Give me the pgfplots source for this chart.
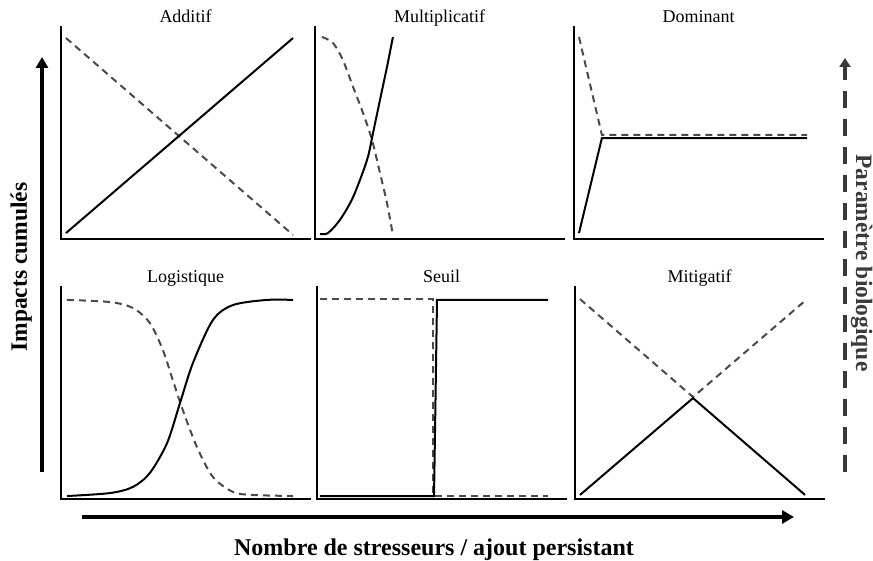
\documentclass[border=0pt]{standalone}
\usepackage{fontspec}
\setmainfont{Liberation Serif}
\usepackage{pgfplots}
\pgfplotsset{compat=1.18}
\usetikzlibrary{arrows.meta}
\definecolor{dgray}{HTML}{4A4A4A}
\definecolor{lgray}{HTML}{3A3A3A}
\pgfplotsset{
  panel/.style={
    width=249pt, height=212pt, scale only axis,
    xmin=0, xmax=100, ymin=0, ymax=100,
    axis x line=bottom, axis y line=left,
    axis line style={-, line width=2.2pt, line cap=rect},
    xtick=\empty, ytick=\empty,
    anchor=south west, clip=false,
    title style={anchor=base, at={(0.5,1)}, yshift=-2pt, font=\fontsize{18}{20}\selectfont},
  },
  solidl/.style={black, line width=2pt, no marks},
  dashl/.style={dgray, line width=2pt, no marks, dash pattern=on 7pt off 5pt},
}
\begin{document}
\begin{tikzpicture}
\useasboundingbox (0pt,0pt) rectangle (873pt,-561pt);

% Additif
\begin{axis}[panel, at={(61pt,-239pt)}, title={Additif}]
\addplot[dashl] coordinates {(2,94.8) (93.2,1.9)};
\addplot[solidl] coordinates {(2,2.8) (93.2,94.8)};
\end{axis}

% Multiplicatif
\begin{axis}[panel, at={(315pt,-239pt)}, title={Multiplicatif}]
\addplot[dashl, smooth] coordinates {(2.8,95.3) (7.2,92.5) (11.2,84.4) (15.3,71.7) (19.3,59.4) (22.9,46.7) (26.1,31.1) (28.9,17.0) (31.3,1.9)};
\addplot[solidl, smooth] coordinates {(2.0,2.4) (5.2,2.8) (10.0,9.0) (15.3,19.8) (20.9,37.3) (23.3,50.0) (26.1,65.6) (28.9,81.1) (31.3,95.3)};
\end{axis}

% Dominant
\begin{axis}[panel, at={(574pt,-239pt)}, title={Dominant}]
\addplot[dashl] coordinates {(2.0,95.3) (11.2,49.1) (93.6,49.1)};
\addplot[solidl] coordinates {(2.0,2.8) (11.2,47.6) (93.6,47.6)};
\end{axis}

% Logistique
\begin{axis}[panel, at={(61pt,-499pt)}, title={Logistique}]
\addplot[dashl, smooth] coordinates {(2.4,93.9) (19.7,92.9) (28.9,90.1) (35.7,83.0) (40.9,70.3) (44.9,56.1) (48.9,42.0) (54.6,24.5) (61.0,10.4) (69.1,3.3) (77.1,1.9) (93.2,1.4)};
\addplot[solidl, smooth] coordinates {(2.4,1.4) (19.7,2.8) (28.9,5.7) (35.7,12.3) (42.6,26.4) (47.8,45.3) (53.0,64.2) (61.0,84.4) (69.1,91.5) (82.7,93.9) (93.2,93.9)};
\end{axis}

% Seuil
\begin{axis}[panel, at={(317pt,-499pt)}, title={Seuil}]
\addplot[dashl] coordinates {(1.2,94.3) (46.6,94.3) (46.6,1.4) (92.8,1.4)};
\addplot[solidl] coordinates {(1.2,1.4) (47.0,1.4) (48.2,93.9) (92.8,93.9)};
\end{axis}

% Mitigatif
\begin{axis}[panel, at={(575pt,-499pt)}, title={Mitigatif}]
\addplot[dashl] coordinates {(2.0,94.3) (47.4,48.1) (93.2,94.3)};
\addplot[solidl] coordinates {(2.0,1.9) (47.4,47.6) (92.4,1.9)};
\end{axis}

% Big arrows
\draw[line width=3.5pt, -{Triangle[length=11pt,width=12pt]}] (42pt,-472pt) -- (42pt,-57pt);
\draw[line width=4pt, -{Triangle[length=12pt,width=13pt]}] (82pt,-517pt) -- (794pt,-517pt);
\draw[lgray, line width=4pt, dash pattern=on 17pt off 11pt, -{Triangle[length=9pt,width=11pt]}] (845pt,-472pt) -- (845pt,-58pt);

% Labels
\node[rotate=90, anchor=base, font=\bfseries\fontsize{23.5}{26}\selectfont] at (27pt,-267pt) {Impacts cumulés};
\node[rotate=-90, anchor=base, text=lgray, font=\bfseries\fontsize{23.5}{26}\selectfont] at (856pt,-263pt) {Paramètre biologique};
\node[anchor=base, font=\bfseries\fontsize{24}{26}\selectfont] at (434pt,-555pt) {Nombre de stresseurs / ajout persistant};
\end{tikzpicture}
\end{document}
